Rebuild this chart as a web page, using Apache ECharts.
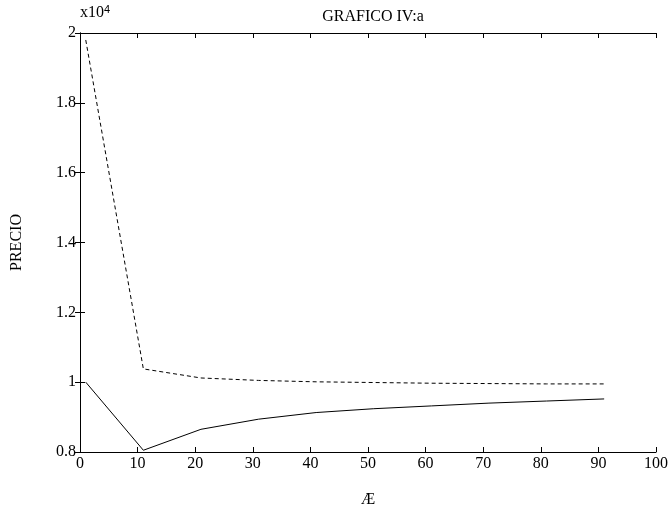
<!DOCTYPE html>
<html>
<head>
<meta charset="utf-8">
<script src="https://cdn.jsdelivr.net/npm/echarts@6/dist/echarts.min.js"></script>
<style>
  html, body { margin: 0; padding: 0; background: #fff; }
  #chart { width: 668px; height: 511px; }
</style>
</head>
<body>
<div id="chart"></div>
<script>
// datos (precio en unidades de 10^4)
const xs = [1, 11, 21, 31, 41, 51, 61, 71, 81, 91]
const precioAlto = [1.98, 1.038, 1.012, 1.005, 1.001, 0.999, 0.997, 0.996, 0.995, 0.995]
const precioBajo = [1.0, 0.805, 0.865, 0.894, 0.913, 0.924, 0.932, 0.94, 0.946, 0.952]

const font = 'Liberation Serif, Times New Roman, serif'
const chart = echarts.init(document.getElementById('chart'))

const frameAxis = {
  axisLine: { show: true, lineStyle: { color: '#000', width: 1 } },
  axisTick: { show: true, inside: true, length: 5, lineStyle: { color: '#000' } },
  splitLine: { show: false }
}

const option = {
  backgroundColor: '#fff',
  animation: false,
  textStyle: { fontFamily: font },
  title: {
    text: 'GRAFICO IV:a',
    left: 368,
    top: 4,
    textAlign: 'center',
    textStyle: { fontFamily: font, fontSize: 16, fontWeight: 'normal', color: '#000' }
  },
  graphic: [
    {
      type: 'text',
      left: 80,
      top: 4,
      style: {
        text: 'x10{s|4}',
        font: '16px ' + font,
        fill: '#000',
        rich: { s: { fontSize: 11, verticalAlign: 'top', padding: [0, 0, 6, 0] } }
      }
    }
  ],
  grid: { left: 80, right: 12, top: 33, bottom: 59, outerBoundsMode: 'none' },
  xAxis: [
    Object.assign({}, frameAxis, {
      type: 'value', min: 0, max: 100, interval: 10, position: 'bottom',
      name: 'Æ', nameLocation: 'middle', nameGap: 40,
      nameTextStyle: { fontFamily: font, fontSize: 16, color: '#000' },
      axisLabel: { color: '#000', fontSize: 16, fontFamily: font, margin: 4 }
    }),
    Object.assign({}, frameAxis, {
      type: 'value', min: 0, max: 100, interval: 10, position: 'top',
      axisLabel: { show: false }
    })
  ],
  yAxis: [
    Object.assign({}, frameAxis, {
      type: 'value', min: 0.8, max: 2, interval: 0.2, position: 'left',
      name: 'PRECIO', nameLocation: 'middle', nameGap: 55,
      nameTextStyle: { fontFamily: font, fontSize: 16, color: '#000' },
      axisLabel: {
        color: '#000', fontSize: 16, fontFamily: font, margin: 4,
        formatter: v => String(Math.round(v * 10) / 10)
      }
    }),
    Object.assign({}, frameAxis, {
      type: 'value', min: 0.8, max: 2, interval: 0.2, position: 'right',
      axisLabel: { show: false }
    })
  ],
  series: [
    {
      type: 'line',
      data: xs.map((x, i) => [x, precioAlto[i]]),
      showSymbol: false,
      lineStyle: { color: '#000', width: 1, type: [4, 3] }
    },
    {
      type: 'line',
      data: xs.map((x, i) => [x, precioBajo[i]]),
      showSymbol: false,
      lineStyle: { color: '#000', width: 1 }
    }
  ]
}

chart.setOption(option)
</script>
</body>
</html>
